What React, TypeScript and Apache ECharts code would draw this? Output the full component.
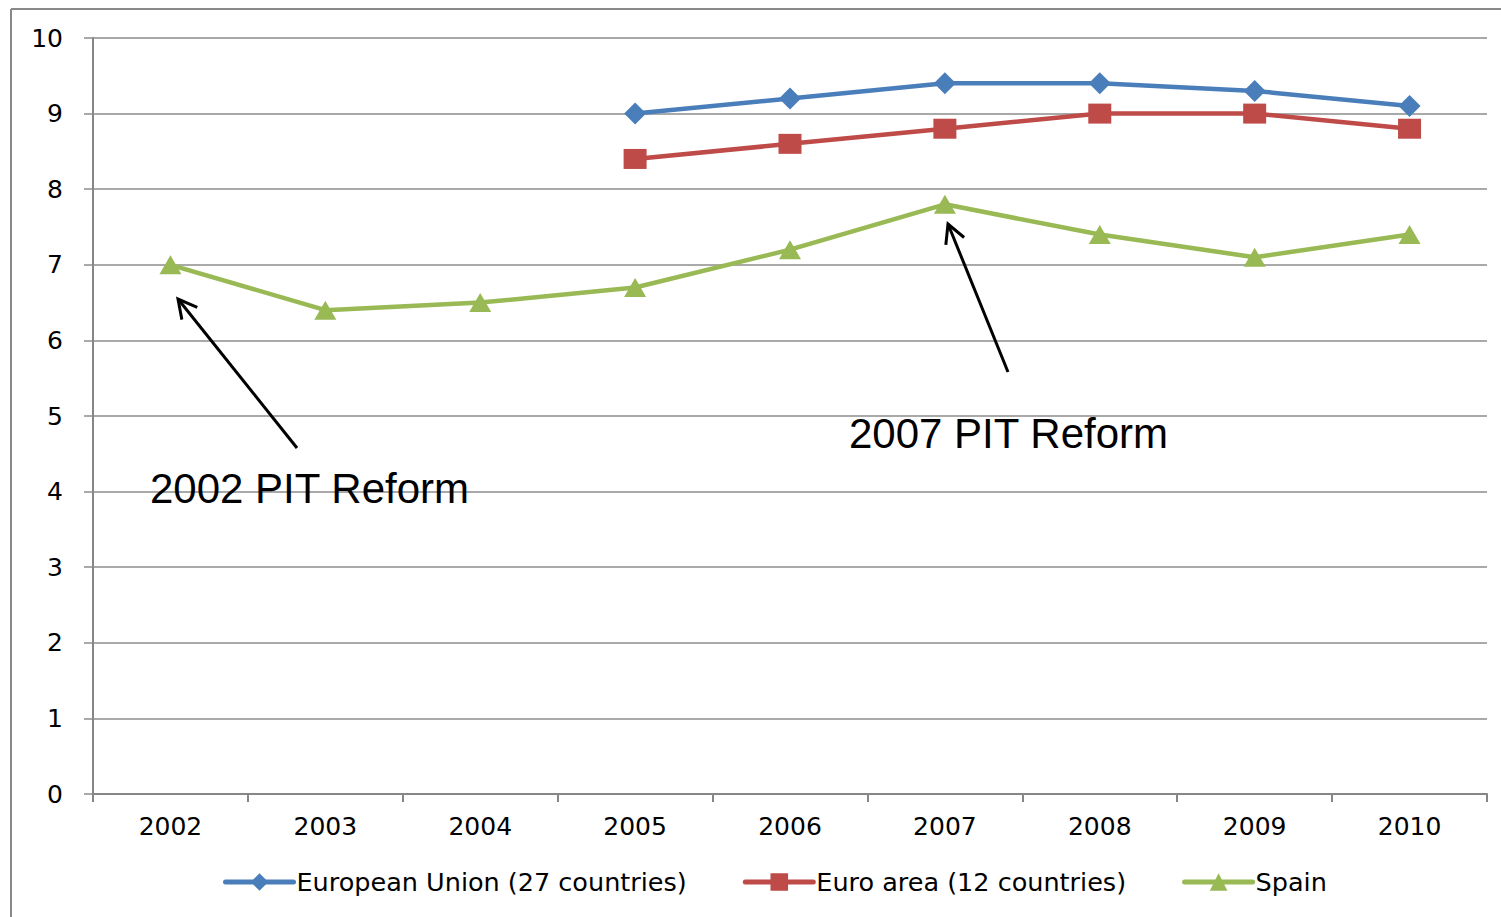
import React, { useEffect, useRef } from "react";
import * as echarts from "echarts";

const years = ["2002", "2003", "2004", "2005", "2006", "2007", "2008", "2009", "2010"];
const euValues = [null, null, null, 9.0, 9.2, 9.4, 9.4, 9.3, 9.1];
const euroValues = [null, null, null, 8.4, 8.6, 8.8, 9.0, 9.0, 8.8];
const spainValues = [7.0, 6.4, 6.5, 6.7, 7.2, 7.8, 7.4, 7.1, 7.4];
const seriesNames = ["European Union (27 countries)", "Euro area (12 countries)", "Spain"];
const annotations = ["2002 PIT Reform", "2007 PIT Reform"];

function arrow(tail: number[], tip: number[]) {
  const dx = tail[0] - tip[0];
  const dy = tail[1] - tip[1];
  const len = Math.sqrt(dx * dx + dy * dy);
  const ux = dx / len;
  const uy = dy / len;
  const a = (28 * Math.PI) / 180;
  const L = 21;
  const r1 = [tip[0] + L * (ux * Math.cos(a) - uy * Math.sin(a)), tip[1] + L * (ux * Math.sin(a) + uy * Math.cos(a))];
  const r2 = [tip[0] + L * (ux * Math.cos(-a) - uy * Math.sin(-a)), tip[1] + L * (ux * Math.sin(-a) + uy * Math.cos(-a))];
  return [
    { type: "line", shape: { x1: tail[0], y1: tail[1], x2: tip[0], y2: tip[1] }, style: { stroke: "#000", lineWidth: 3 }, z: 100 },
    { type: "polyline", shape: { points: [r1, tip, r2] }, style: { stroke: "#000", lineWidth: 3, fill: null }, z: 100 },
  ];
}

export default function App() {
  const ref = useRef<HTMLDivElement>(null);
  useEffect(() => {
    if (!ref.current) return;
    const chart = echarts.init(ref.current, null, { renderer: "svg" });
    const axisFont = "DejaVu Sans, Verdana, sans-serif";
    chart.setOption({
      animation: false,
      backgroundColor: "#fff",
      grid: { left: 93, right: 14, top: 38, bottom: 123 },
      xAxis: {
        type: "category",
        data: years,
        boundaryGap: true,
        axisLine: { show: true, lineStyle: { color: "#868686", width: 2 } },
        axisTick: { show: true, length: 8, inside: false, lineStyle: { color: "#868686", width: 2 }, alignWithLabel: false },
        axisLabel: { color: "#000", fontSize: 25, fontFamily: axisFont, margin: 20 },
        splitLine: { show: false },
      },
      yAxis: {
        type: "value",
        min: 0,
        max: 10,
        interval: 1,
        axisLine: { show: true, lineStyle: { color: "#868686", width: 2 } },
        axisTick: { show: true, length: 9, lineStyle: { color: "#8c8c8c", width: 1.5 } },
        axisLabel: { color: "#000", fontSize: 25, fontFamily: axisFont, margin: 30 },
        splitLine: { show: true, lineStyle: { color: "#8c8c8c", width: 1.5 } },
      },
      legend: {
        left: 218,
        top: 864,
        itemWidth: 68,
        itemHeight: 22,
        itemGap: 56,
        lineStyle: { width: 5, cap: "round" },
        textStyle: { color: "#000", fontSize: 25.5, fontFamily: axisFont, padding: [0, 0, 0, -2] },
        data: seriesNames,
      },
      series: [
        {
          name: seriesNames[0],
          type: "line",
          data: euValues,
          symbol: "diamond",
          symbolSize: 22,
          lineStyle: { width: 4.5, color: "#4a7ebb" },
          itemStyle: { color: "#4a7ebb" },
          connectNulls: false,
        },
        {
          name: seriesNames[1],
          type: "line",
          data: euroValues,
          symbol: "rect",
          symbolSize: [23, 20],
          lineStyle: { width: 4.5, color: "#be4b48" },
          itemStyle: { color: "#be4b48" },
          connectNulls: false,
        },
        {
          name: seriesNames[2],
          type: "line",
          data: spainValues,
          symbol: "triangle",
          symbolSize: [22, 19],
          lineStyle: { width: 4.5, color: "#98b954" },
          itemStyle: { color: "#98b954" },
        },
      ],
      graphic: [
        { type: "line", shape: { x1: 11, y1: 9, x2: 1501, y2: 9 }, style: { stroke: "#898989", lineWidth: 2 } },
        { type: "line", shape: { x1: 11, y1: 9, x2: 11, y2: 917 }, style: { stroke: "#898989", lineWidth: 2 } },
        ...arrow([297, 448], [178, 299]),
        ...arrow([1008, 372], [948, 224]),
        {
          type: "text",
          x: 150,
          y: 488,
          z: 100,
          style: { text: annotations[0], fill: "#000", fontSize: 42, fontFamily: "Liberation Sans, Arial, sans-serif", verticalAlign: "middle", align: "left" },
        },
        {
          type: "text",
          x: 849,
          y: 433,
          z: 100,
          style: { text: annotations[1], fill: "#000", fontSize: 42, fontFamily: "Liberation Sans, Arial, sans-serif", verticalAlign: "middle", align: "left" },
        },
      ],
    });
    return () => chart.dispose();
  }, []);
  return <div ref={ref} style={{ position: "absolute", left: 0, top: 0, width: 1501, height: 917 }} />;
}
